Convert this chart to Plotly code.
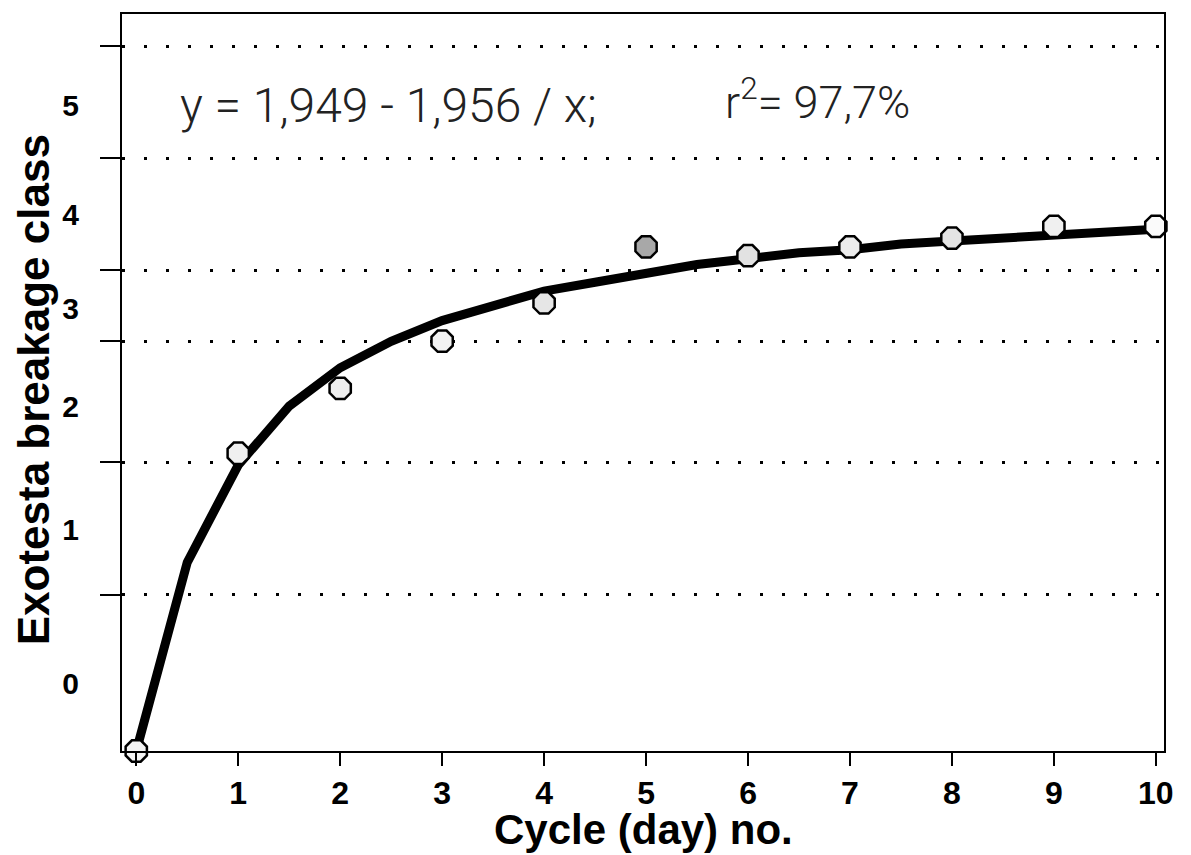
import plotly.graph_objects as go

# ---- data (y in the chart's fitted scale) ----
cycle_pts = [0, 1, 2, 3, 4, 5, 6, 7, 8, 9, 10]
class_pts = [0.00, 1.01, 1.23, 1.39, 1.52, 1.71, 1.68, 1.71, 1.74, 1.78, 1.78]

curve_x = [0, 0.5, 1, 1.5, 2, 2.5, 3, 3.5, 4, 4.5, 5, 5.5, 6, 6.5, 7, 7.5, 8, 8.5, 9, 9.5, 10]
curve_y = [0.00, 0.64, 0.97, 1.17, 1.30, 1.39, 1.46, 1.51, 1.56, 1.59, 1.62, 1.65,
           1.67, 1.69, 1.70, 1.72, 1.73, 1.74, 1.75, 1.76, 1.77]

# class boundaries (dotted lines) and class label positions on the y scale
class_bounds = [0.53, 0.98, 1.39, 1.63, 2.01, 2.39]
class_label_pos = [0.23, 0.75, 1.17, 1.50, 1.82, 2.19]
class_labels = ["0", "1", "2", "3", "4", "5"]

x_ticks = list(range(0, 11))

marker_fill = ["#f4f4f4", "#f0f0f0", "#eeeeee", "#f2f2f2", "#e6e6e6", "#a8a8a8",
               "#e2e2e2", "#ececec", "#e4e4e4", "#f0f0f0", "#fafafa"]

fig = go.Figure()
fig.add_trace(go.Scatter(x=curve_x, y=curve_y, mode="lines",
                         line=dict(color="black", width=9), hoverinfo="skip",
                         showlegend=False))
fig.add_trace(go.Scatter(x=cycle_pts, y=class_pts, mode="markers",
                         marker=dict(symbol="octagon", size=23, color=marker_fill,
                                     line=dict(color="black", width=2.5)),
                         showlegend=False, cliponaxis=False))
fig.add_trace(go.Scatter(x=[None], y=[None], yaxis="y2", showlegend=False))

YR = [0, 2.5]
fig.update_layout(
    width=1191, height=855,
    margin=dict(l=122, r=27, t=14, b=104),
    paper_bgcolor="white", plot_bgcolor="white",
    font=dict(family="Liberation Sans, Arial, sans-serif", color="black"),
    xaxis=dict(range=[-0.14, 10.08], tickvals=x_ticks,
               ticks="outside", ticklen=13, tickwidth=2, tickcolor="black",
               showline=True, linecolor="black", linewidth=2, mirror=True,
               showgrid=False, zeroline=False,
               tickfont=dict(size=32, family="Liberation Sans, Arial", weight="bold")),
    yaxis=dict(range=YR, tickvals=class_bounds, showticklabels=False,
               ticks="outside", ticklen=20, tickwidth=2, tickcolor="black",
               showline=True, linecolor="black", linewidth=2, mirror=True,
               showgrid=True, gridcolor="black", gridwidth=3, griddash="3px,19px",
               zeroline=False),
    yaxis2=dict(range=YR, overlaying="y", side="left", tickvals=class_label_pos,
                ticktext=class_labels, ticks="outside", ticklen=36,
                tickcolor="rgba(0,0,0,0)", showgrid=False, zeroline=False,
                showline=False,
                tickfont=dict(size=30, family="Liberation Sans, Arial", weight="bold")),
)

fig.add_annotation(text="Exotesta breakage class", xref="paper", yref="paper",
                   x=-0.085, y=0.49, textangle=-90, showarrow=False,
                   xanchor="center", yanchor="middle",
                   font=dict(size=44, family="Liberation Sans, Arial", weight="bold"))
fig.add_annotation(text="Cycle (day) no.", xref="paper", yref="paper",
                   x=0.50, y=-0.106, showarrow=False,
                   xanchor="center", yanchor="middle",
                   font=dict(size=42, family="Liberation Sans, Arial", weight="bold"))
fig.add_annotation(text="y = 1,949 - 1,956 / x;", x=0.41, y=2.19,
                   showarrow=False, xanchor="left", yanchor="middle",
                   font=dict(size=48, family="Roboto, Liberation Sans", weight=300,
                             color="#222"))
fig.add_annotation(text="r<sup>2</sup>= 97,7%", x=5.75, y=2.21,
                   showarrow=False, xanchor="left", yanchor="middle",
                   font=dict(size=45, family="Roboto, Liberation Sans", weight=300,
                             color="#222"))

fig.write_html("out.html")
